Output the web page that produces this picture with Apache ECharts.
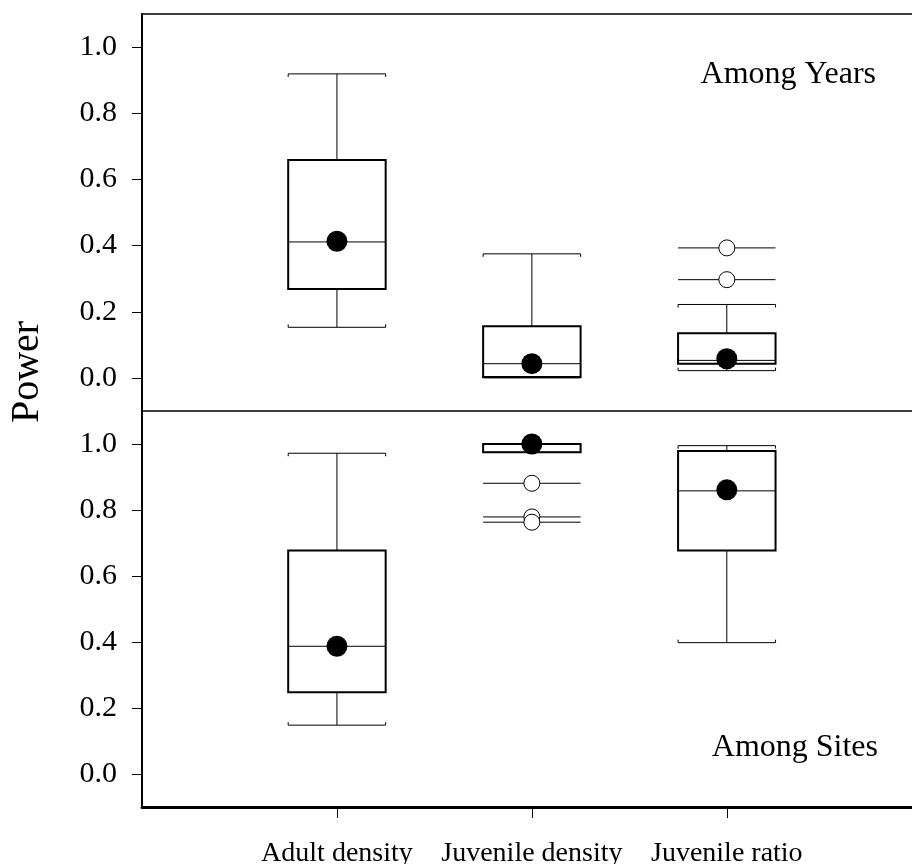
<!DOCTYPE html>
<html>
<head>
<meta charset="utf-8">
<script src="https://cdn.jsdelivr.net/npm/echarts@6/dist/echarts.min.js"></script>
<style>
  html, body { margin: 0; padding: 0; background: #fff; }
  #chart { width: 912px; height: 864px; }
</style>
</head>
<body>
<div id="chart"></div>
<script>
// Groups along the shared x axis (positions 1, 2, 3)
const categories = ['Adult density', 'Juvenile density', 'Juvenile ratio'];
const yTicks = [0, 0.2, 0.4, 0.6, 0.8, 1.0];

// Among Years: box-plot summaries of power
const yearsLow    = [0.153, 0.000, 0.022];
const yearsQ1     = [0.269, 0.003, 0.043];
const yearsMedian = [0.411, 0.043, 0.053];
const yearsQ3     = [0.659, 0.156, 0.135];
const yearsHigh   = [0.919, 0.375, 0.222];
const yearsMean   = [0.413, 0.043, 0.058];
const yearsOutliers = [[3, 0.393], [3, 0.297]];

// Among Sites: box-plot summaries of power
const sitesLow    = [0.148, 0.975, 0.398];
const sitesQ1     = [0.248, 0.975, 0.677];
const sitesMedian = [0.387, 1.000, 0.858];
const sitesQ3     = [0.677, 1.000, 0.979];
const sitesHigh   = [0.972, 1.000, 0.995];
const sitesMean   = [0.387, 1.000, 0.861];
const sitesOutliers = [[2, 0.881], [2, 0.779], [2, 0.763]];

const FONT = 'Liberation Serif';
const HALF = 0.25;   // half box width in x units
const X_MAX = 3.95;  // x range runs past the last group to the right edge

function boxRows(low, q1, med, q3, high) {
  return categories.map((c, i) => [i + 1, low[i], q1[i], med[i], q3[i], high[i]]);
}
function meanRows(mean) {
  return categories.map((c, i) => [i + 1, mean[i]]);
}

function renderBox(params, api) {
  const x = api.value(0);
  const pLow = api.coord([x, api.value(1)]);
  const pQ1 = api.coord([x, api.value(2)]);
  const pMed = api.coord([x, api.value(3)]);
  const pQ3 = api.coord([x, api.value(4)]);
  const pHigh = api.coord([x, api.value(5)]);
  const hw = api.size([HALF, 0])[0];
  const cx = pMed[0];
  const thin = { stroke: '#000', lineWidth: 1, fill: null };
  const thick = { stroke: '#000', lineWidth: 2, fill: null };
  const line = (x1, y1, x2, y2, st) => ({ type: 'line', shape: { x1, y1, x2, y2 }, style: st });
  const children = [
    line(cx, pQ3[1], cx, pHigh[1], thin),
    line(cx, pQ1[1], cx, pLow[1], thin),
    line(cx - hw, pHigh[1], cx + hw, pHigh[1], thin),
    line(cx - hw, pHigh[1], cx - hw, pHigh[1] + 3, thin),
    line(cx + hw, pHigh[1], cx + hw, pHigh[1] + 3, thin),
    line(cx - hw, pLow[1], cx + hw, pLow[1], thin),
    line(cx - hw, pLow[1], cx - hw, pLow[1] - 3, thin),
    line(cx + hw, pLow[1], cx + hw, pLow[1] - 3, thin),
    { type: 'rect', shape: { x: cx - hw, y: pQ3[1], width: 2 * hw, height: pQ1[1] - pQ3[1] }, style: thick },
    line(cx - hw, pMed[1], cx + hw, pMed[1], thin)
  ];
  return { type: 'group', children };
}

function renderOutlier(params, api) {
  const p = api.coord([api.value(0), api.value(1)]);
  const hw = api.size([HALF, 0])[0];
  return {
    type: 'group',
    children: [
      { type: 'line', shape: { x1: p[0] - hw, y1: p[1], x2: p[0] + hw, y2: p[1] }, style: { stroke: '#000', lineWidth: 1 } },
      { type: 'circle', shape: { cx: p[0], cy: p[1], r: 8 }, style: { fill: '#fff', stroke: '#000', lineWidth: 1 } }
    ]
  };
}

function yAxisFor(gridIndex) {
  return {
    type: 'value', gridIndex, min: -0.1, max: 1.1,
    splitLine: { show: false },
    axisLine: { show: true, onZero: false, lineStyle: { color: '#000', width: 2 } },
    axisTick: { show: true, inside: false, length: 10, customValues: yTicks, lineStyle: { color: '#000', width: 1 } },
    axisLabel: {
      customValues: yTicks, margin: 25, color: '#000',
      fontFamily: FONT, fontSize: 30,
      formatter: v => v.toFixed(1)
    }
  };
}

// plain frame line along an x axis (no ticks or labels)
function frameAxis(gridIndex, position, width) {
  return {
    type: 'value', gridIndex, position, min: 0, max: X_MAX,
    splitLine: { show: false },
    axisLine: { show: true, onZero: false, lineStyle: { color: '#000', width } },
    axisTick: { show: false },
    axisLabel: { show: false }
  };
}

const chart = echarts.init(document.getElementById('chart'), null, { renderer: 'canvas' });

chart.setOption({
  backgroundColor: '#fff',
  animation: false,
  grid: [
    { left: 142, top: 14, right: 0, height: 397, show: false, outerBoundsMode: 'none', containLabel: false },
    { left: 142, top: 411, right: 0, height: 396, show: false, outerBoundsMode: 'none', containLabel: false }
  ],
  xAxis: [
    frameAxis(0, 'bottom', 1.5),
    {
      type: 'value', gridIndex: 1, position: 'bottom', min: 0, max: X_MAX,
      splitLine: { show: false },
      axisLine: { show: true, onZero: false, lineStyle: { color: '#000', width: 3 } },
      axisTick: { show: true, length: 11, customValues: [1, 2, 3], lineStyle: { color: '#000', width: 1 } },
      axisLabel: {
        customValues: [1, 2, 3], margin: 33, color: '#000',
        fontFamily: FONT, fontSize: 28,
        formatter: v => categories[Math.round(v) - 1] || ''
      }
    },
    frameAxis(0, 'top', 1.5)
  ],
  yAxis: [yAxisFor(0), yAxisFor(1)],
  graphic: [
    { type: 'text', x: 876, y: 75, style: { text: 'Among Years', font: '32px "Liberation Serif"', fill: '#000', textAlign: 'right', textVerticalAlign: 'middle' } },
    { type: 'text', x: 878, y: 748, style: { text: 'Among Sites', font: '32px "Liberation Serif"', fill: '#000', textAlign: 'right', textVerticalAlign: 'middle' } },
    { type: 'text', x: 27, y: 372, rotation: Math.PI / 2, style: { text: 'Power', font: '40px "Liberation Serif"', fill: '#000', textAlign: 'center', textVerticalAlign: 'middle' } }
  ],
  series: [
    { type: 'custom', xAxisIndex: 0, yAxisIndex: 0, renderItem: renderBox, encode: { x: 0, y: [1, 2, 3, 4, 5] }, data: boxRows(yearsLow, yearsQ1, yearsMedian, yearsQ3, yearsHigh), clip: false, z: 2 },
    { type: 'custom', xAxisIndex: 0, yAxisIndex: 0, renderItem: renderOutlier, encode: { x: 0, y: 1 }, data: yearsOutliers, z: 3 },
    { type: 'scatter', xAxisIndex: 0, yAxisIndex: 0, symbol: 'circle', symbolSize: 21, itemStyle: { color: '#000', opacity: 1 }, data: meanRows(yearsMean), z: 4 },
    { type: 'custom', xAxisIndex: 1, yAxisIndex: 1, renderItem: renderBox, encode: { x: 0, y: [1, 2, 3, 4, 5] }, data: boxRows(sitesLow, sitesQ1, sitesMedian, sitesQ3, sitesHigh), clip: false, z: 2 },
    { type: 'custom', xAxisIndex: 1, yAxisIndex: 1, renderItem: renderOutlier, encode: { x: 0, y: 1 }, data: sitesOutliers, z: 3 },
    { type: 'scatter', xAxisIndex: 1, yAxisIndex: 1, symbol: 'circle', symbolSize: 21, itemStyle: { color: '#000', opacity: 1 }, data: meanRows(sitesMean), z: 4 }
  ]
});
</script>
</body>
</html>
